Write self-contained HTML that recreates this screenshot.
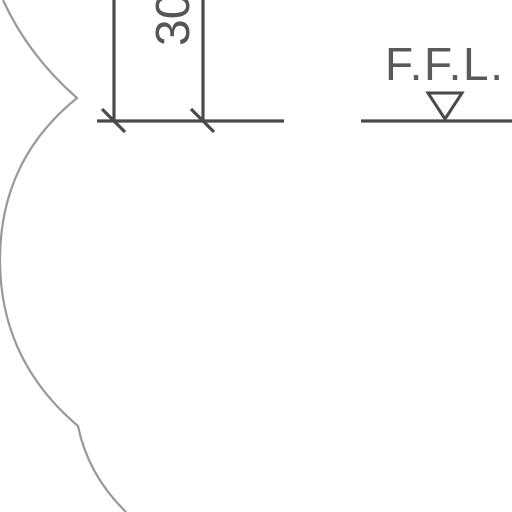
<!DOCTYPE html>
<html><head><meta charset="utf-8"><style>
html,body{margin:0;padding:0;background:#fff;width:512px;height:512px;overflow:hidden}
</style></head><body>
<svg width="512" height="512" viewBox="0 0 512 512">
<path d="M3 0 Q28 55 77 98 Q0 160 0 260 Q0 360 78 426 Q88 475 126 512" fill="none" stroke="#999" stroke-width="2.2"/>
<g stroke="#4a4a4a" stroke-width="3.2" fill="none">
<line x1="114" y1="0" x2="114" y2="121"/>
<line x1="203" y1="0" x2="203" y2="121"/>
<line x1="97" y1="121" x2="284" y2="121"/>
<line x1="102" y1="109" x2="125" y2="132"/>
<line x1="191" y1="109" x2="214" y2="132"/>
<line x1="361" y1="121" x2="512" y2="121"/>
<path d="M428 93 L462 93 L445 119 Z" stroke-width="3"/>
</g>
<text transform="translate(189,46) rotate(-90)" font-family="Liberation Sans, sans-serif" font-size="48" fill="#555">300</text>
<text x="385" y="80" font-family="Liberation Sans, sans-serif" font-size="46" fill="#5a5a5a" textLength="118" lengthAdjust="spacing">F.F.L.</text>
</svg>
</body></html>
